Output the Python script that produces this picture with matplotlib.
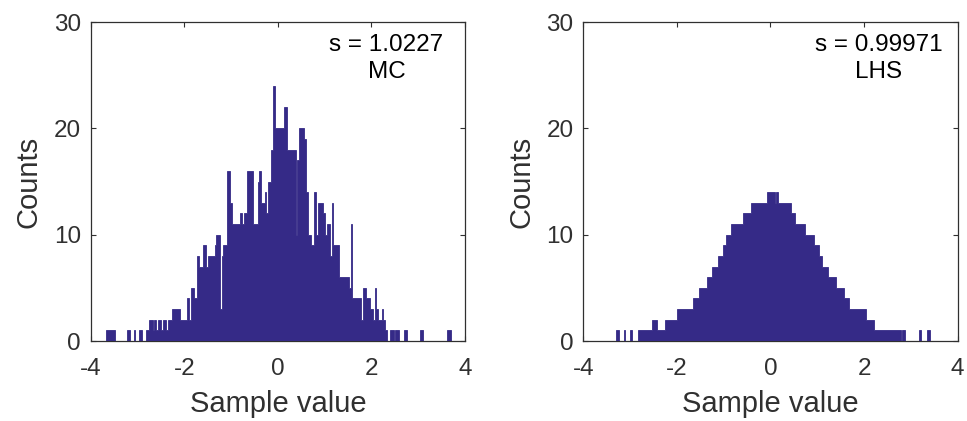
import numpy as np
import matplotlib
matplotlib.use("Agg")
import matplotlib.pyplot as plt

plt.rcParams['font.family'] = ['Liberation Sans', 'DejaVu Sans']
plt.rcParams['axes.unicode_minus'] = False

# histogram counts (200 bins each)
mc_lo, mc_hi = -3.67, 3.69
mc_counts = [
    1, 1, 1, 1, 1, 0, 0, 0, 0, 0, 0, 0, 1, 1, 0, 0, 1, 0, 0, 1,
    1, 0, 0, 1, 1, 2, 2, 1, 2, 1, 2, 2, 1, 2, 2, 1, 2, 2, 3, 3,
    3, 3, 3, 2, 2, 2, 2, 4, 2, 5, 5, 4, 4, 8, 7, 7, 9, 9, 7, 8,
    8, 8, 8, 9, 10, 10, 3, 8, 9, 9, 16, 16, 13, 11, 11, 11, 11, 11, 12, 11,
    12, 12, 16, 16, 16, 11, 11, 11, 15, 16, 13, 13, 14, 12, 15, 15, 18, 24, 20, 20,
    20, 20, 20, 22, 22, 18, 18, 18, 18, 18, 10, 17, 20, 20, 20, 19, 14, 10, 10, 9,
    9, 14, 10, 13, 13, 13, 12, 10, 11, 11, 8, 13, 9, 9, 9, 6, 6, 6, 6, 6,
    6, 5, 11, 4, 4, 4, 4, 4, 2, 5, 5, 4, 4, 3, 3, 2, 5, 3, 2, 2,
    3, 2, 1, 0, 0, 1, 1, 0, 1, 1, 0, 0, 0, 1, 1, 0, 0, 0, 0, 0,
    0, 0, 1, 1, 0, 0, 0, 0, 0, 0, 0, 0, 0, 0, 0, 0, 0, 0, 1, 1,
]

lhs_lo, lhs_hi = -3.30, 3.42
lhs_counts = [
    1, 1, 0, 0, 0, 1, 0, 0, 0, 1, 0, 0, 0, 0, 1, 1, 1, 1, 1, 1,
    1, 1, 1, 2, 2, 2, 1, 1, 1, 1, 1, 2, 2, 2, 2, 2, 2, 2, 2, 3,
    3, 3, 3, 3, 3, 3, 3, 3, 3, 4, 4, 4, 4, 5, 5, 5, 5, 5, 6, 6,
    6, 7, 7, 7, 7, 8, 8, 8, 9, 9, 10, 10, 10, 11, 11, 11, 11, 11, 11, 11,
    11, 12, 12, 12, 12, 12, 13, 13, 13, 13, 13, 13, 13, 13, 13, 13, 14, 14, 14, 14,
    14, 13, 14, 13, 13, 13, 13, 13, 13, 13, 13, 12, 12, 12, 11, 11, 11, 11, 11, 11,
    10, 10, 10, 10, 10, 10, 9, 9, 9, 8, 8, 7, 7, 7, 7, 6, 6, 6, 6, 6,
    5, 5, 5, 5, 5, 4, 4, 4, 3, 3, 3, 3, 3, 3, 3, 3, 3, 3, 3, 2,
    2, 2, 2, 2, 1, 1, 1, 1, 1, 1, 1, 1, 1, 1, 1, 1, 1, 1, 1, 1,
    1, 0, 1, 1, 0, 0, 0, 0, 0, 0, 0, 0, 0, 1, 0, 0, 0, 0, 1, 1,
]

panels = [
    (mc_lo, mc_hi, mc_counts, "s = 1.0227\nMC"),
    (lhs_lo, lhs_hi, lhs_counts, "s = 0.99971\nLHS"),
]

bar_color = "#352a87"
ink = "#303030"

fig = plt.figure(figsize=(9.67, 4.21), dpi=100)
lefts = [0.0938, 0.6032]

for left, (lo, hi, counts, note) in zip(lefts, panels):
    ax = fig.add_axes([left, 0.19, 0.3871, 0.7577])
    edges = np.linspace(lo, hi, len(counts) + 1)
    ax.stairs(counts, edges, fill=True, facecolor=bar_color,
              edgecolor=bar_color, linewidth=0.6, zorder=3)
    ax.set_xlim(-4, 4)
    ax.set_ylim(0, 30)
    ax.set_xticks([-4, -2, 0, 2, 4])
    ax.set_yticks([0, 10, 20, 30])
    ax.tick_params(direction="in", top=True, right=True, length=3.5,
                   width=0.8, colors=ink, labelsize=17.5)
    ax.tick_params(axis="x", pad=12.5)
    ax.tick_params(axis="y", pad=7)
    for sp in ax.spines.values():
        sp.set_color(ink)
        sp.set_linewidth(0.9)
    ax.set_xlabel("Sample value", fontsize=21, color=ink, labelpad=7)
    ax.set_ylabel("Counts", fontsize=21, color=ink, labelpad=8)
    ax.text(0.79, 0.886, note, transform=ax.transAxes, ha="center",
            va="center", fontsize=17.5, color="black", linespacing=1.25)

fig.savefig("out.png", dpi=100)
